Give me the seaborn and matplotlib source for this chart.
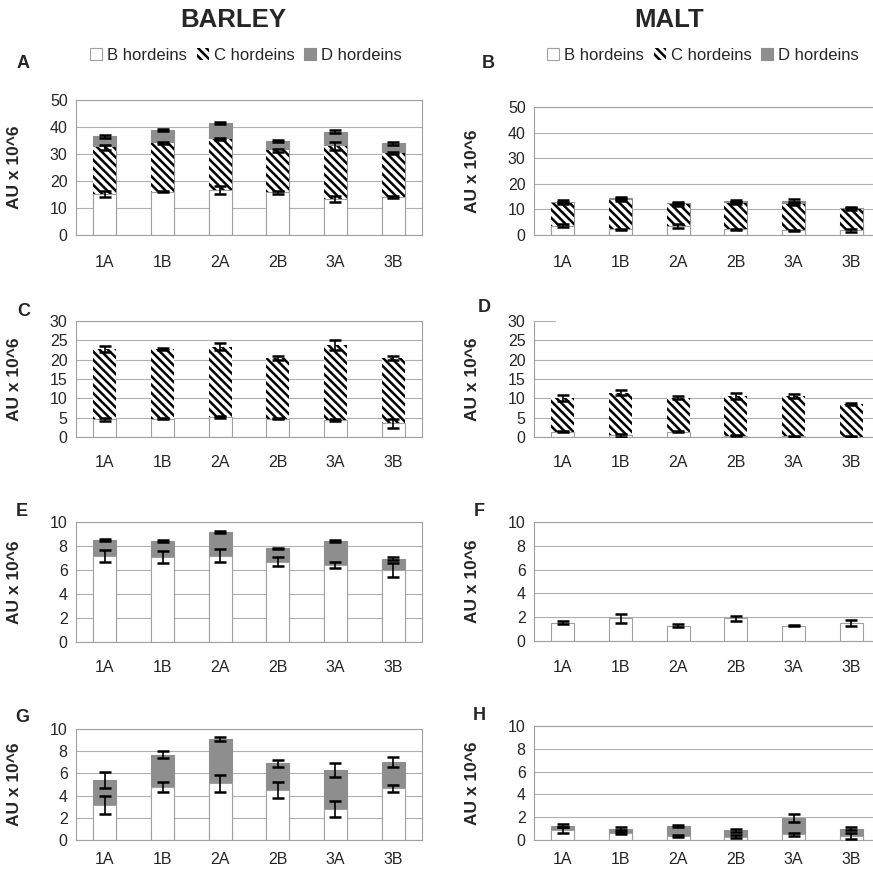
import numpy as np
import matplotlib
matplotlib.use("Agg")
import matplotlib.pyplot as plt
from matplotlib.patches import Patch
import seaborn as sns

sns.set_style("white")
plt.rcParams["font.family"] = ["Liberation Sans", "DejaVu Sans"]
plt.rcParams["hatch.linewidth"] = 1.8

samples = ["1A", "1B", "2A", "2B", "3A", "3B"]

# A - barley, all hordeins
a_b = [15.2, 16.1, 16.7, 15.8, 13.3, 14.0]
a_b_err = [1.0, 0.3, 1.6, 0.6, 1.0, 0.3]
a_c = [17.3, 17.9, 18.8, 15.5, 19.5, 16.5]
a_c_err = [0.9, 0.4, 0.4, 0.4, 1.5, 0.4]
a_d = [4.0, 4.9, 5.9, 3.4, 5.4, 3.5]
a_d_err = [0.5, 0.4, 0.4, 0.4, 0.6, 0.6]

# B - malt, all hordeins
b_b = [3.7, 2.3, 3.5, 2.3, 1.8, 1.8]
b_b_err = [0.6, 0.2, 0.7, 0.2, 0.2, 0.6]
b_c = [8.8, 11.5, 8.5, 10.3, 10.4, 8.4]
b_c_err = [0.5, 0.5, 0.5, 0.4, 0.5, 0.3]
b_d = [0.5, 0.6, 0.6, 0.6, 1.0, 0.4]
b_d_err = [0.5, 0.4, 0.4, 0.3, 0.8, 0.2]

# C - barley
c_b = [4.6, 4.7, 5.2, 4.7, 4.4, 3.5]
c_b_err = [0.4, 0.1, 0.2, 0.1, 0.2, 1.2]
c_c = [18.2, 18.0, 18.2, 15.7, 19.4, 17.0]
c_c_err = [0.7, 0.3, 0.8, 0.5, 1.3, 0.5]

# D - malt
d_b = [1.4, 0.4, 1.4, 0.3, 0.2, 0.1]
d_b_err = [0.1, 0.3, 0.1, 0.1, 0.1, 0.1]
d_c = [8.7, 11.1, 8.8, 10.4, 10.4, 8.5]
d_c_err = [0.8, 0.7, 0.4, 0.8, 0.4, 0.3]

# E - barley
e_b = [7.2, 7.1, 7.2, 6.7, 6.4, 6.0]
e_b_err = [0.5, 0.5, 0.55, 0.4, 0.25, 0.55]
e_d = [1.3, 1.3, 1.95, 1.1, 2.0, 0.95]
e_d_err = [0.08, 0.08, 0.08, 0.05, 0.08, 0.12]

# F - malt
f_b = [1.55, 1.9, 1.3, 1.9, 1.3, 1.55]
f_b_err = [0.12, 0.35, 0.15, 0.18, 0.05, 0.25]

# G - barley
g_b = [3.15, 4.75, 5.1, 4.5, 2.8, 4.65]
g_b_err = [0.85, 0.45, 0.8, 0.75, 0.7, 0.35]
g_d = [2.25, 2.95, 4.0, 2.4, 3.5, 2.4]
g_d_err = [0.75, 0.28, 0.2, 0.3, 0.6, 0.45]

# H - malt
h_b = [0.88, 0.64, 0.35, 0.3, 0.5, 0.35]
h_b_err = [0.25, 0.1, 0.05, 0.15, 0.15, 0.25]
h_d = [0.38, 0.36, 0.9, 0.55, 1.4, 0.65]
h_d_err = [0.1, 0.1, 0.1, 0.15, 0.35, 0.1]

legend_labels = ["B hordeins", "C hordeins", "D hordeins"]

W, H = 873, 876
EDGE = "#a0a0a0"
GRID = "#b0b0b0"
GRAY = "#8e8e8e"
HATCH = chr(92) * 4   # dense backslash hatch

STYLE = {
    "B": dict(color="white", edgecolor=EDGE, linewidth=0.8),
    "C": dict(color="white", edgecolor="black", linewidth=0),
    "D": dict(color=GRAY, edgecolor=GRAY, linewidth=0.8),
}

# letter: (left px, top px, bottom px, ymax, ystep, tick pad pt, layers)
panels = {
    "A": (76, 100, 235, 50, 10, 14.5, [(a_b, a_b_err, "B"), (a_c, a_c_err, "C"), (a_d, a_d_err, "D")]),
    "B": (534, 107, 235, 50, 10, 14.5, [(b_b, b_b_err, "B"), (b_c, b_c_err, "C"), (b_d, b_d_err, "D")]),
    "C": (76, 321, 437, 30, 5, 13.0, [(c_b, c_b_err, "B"), (c_c, c_c_err, "C")]),
    "D": (534, 321, 437, 30, 5, 13.0, [(d_b, d_b_err, "B"), (d_c, d_c_err, "C")]),
    "E": (76, 522, 642, 10, 2, 13.0, [(e_b, e_b_err, "B"), (e_d, e_d_err, "D")]),
    "F": (534, 522, 641, 10, 2, 13.5, [(f_b, f_b_err, "B")]),
    "G": (76, 729, 840, 10, 2, 9.0, [(g_b, g_b_err, "B"), (g_d, g_d_err, "D")]),
    "H": (534, 726, 840, 10, 2, 9.0, [(h_b, h_b_err, "B"), (h_d, h_d_err, "D")]),
}
letter_pos = {"A": (23, 63), "B": (488, 63), "C": (24, 312), "D": (484, 307),
              "E": (22, 512), "F": (479, 512), "G": (22, 717), "H": (479, 715)}

fig = plt.figure(figsize=(W / 100, H / 100), dpi=100)

for key, (left, top, bottom, ymax, ystep, pad, layers) in panels.items():
    ax = fig.add_axes([left / W, 1 - bottom / H, 346 / W, (bottom - top) / H])
    ax.set_axisbelow(True)

    tops = np.cumsum([np.array(v) for v, _, _ in layers], axis=0)
    # draw from the top layer down so lower layers overlay
    for i in range(len(layers) - 1, -1, -1):
        kind = layers[i][2]
        n0 = len(ax.patches)
        sns.barplot(x=samples, y=tops[i], ax=ax, width=0.4, saturation=1,
                    errorbar=None, zorder=2, **STYLE[kind])
        if kind == "C":
            for p in ax.patches[n0:]:
                p.set_hatch(HATCH)
    for i, (_, err, _) in enumerate(layers):
        ax.errorbar(np.arange(len(samples)), tops[i], yerr=err, fmt="none",
                    ecolor="black", elinewidth=1.2, capsize=4.2, capthick=1.8, zorder=5)

    ax.set_ylim(0, ymax)
    ax.set_xlim(-0.5, len(samples) - 0.5)
    ax.set_yticks(np.arange(0, ymax + 0.1, ystep))
    ax.yaxis.grid(True, color=GRID, linewidth=0.8)
    ax.set_xlabel("")
    ax.set_ylabel("AU x 10^6", fontsize=12.5, fontweight="bold")
    ax.yaxis.set_label_coords(-0.157, 0.5)

    ax.set_xticks(np.arange(-0.5, len(samples), 1.0), minor=True)
    ax.tick_params(axis="x", which="major", length=0, pad=pad, labelsize=11.5)
    ax.tick_params(axis="x", which="minor", length=4, color=EDGE, direction="out")
    ax.tick_params(axis="y", length=4, color=EDGE, direction="out", labelsize=11.5, pad=2)
    for s in ax.spines.values():
        s.set_color(EDGE)
        s.set_linewidth(0.8)

    if key == "D":
        ax.spines["top"].set_visible(False)
        ax.yaxis.get_gridlines()[-1].set_visible(False)
        ax.axhline(ymax, xmin=0, xmax=0.06, color=GRID, linewidth=0.8, clip_on=False)

    x, y = letter_pos[key]
    fig.text(x / W, 1 - y / H, key, fontsize=13, fontweight="bold", ha="center", va="center")

fig.text(233 / W, 1 - 20 / H, "BARLEY", fontsize=18.5, fontweight="bold", ha="center", va="center")
fig.text(669 / W, 1 - 20 / H, "MALT", fontsize=18.5, fontweight="bold", ha="center", va="center")

handles = [
    Patch(facecolor="white", edgecolor=EDGE, linewidth=0.8),
    Patch(facecolor="white", edgecolor="black", linewidth=0, hatch=HATCH),
    Patch(facecolor=GRAY, edgecolor=GRAY, linewidth=0.8),
]
for cx in (246, 703):
    fig.legend(handles, legend_labels, loc="center", ncol=3, frameon=False,
               bbox_to_anchor=(cx / W, 1 - 55 / H), fontsize=12,
               handlelength=0.7, handleheight=0.7, handletextpad=0.3, columnspacing=0.6)

fig.savefig("out.png", dpi=100)
